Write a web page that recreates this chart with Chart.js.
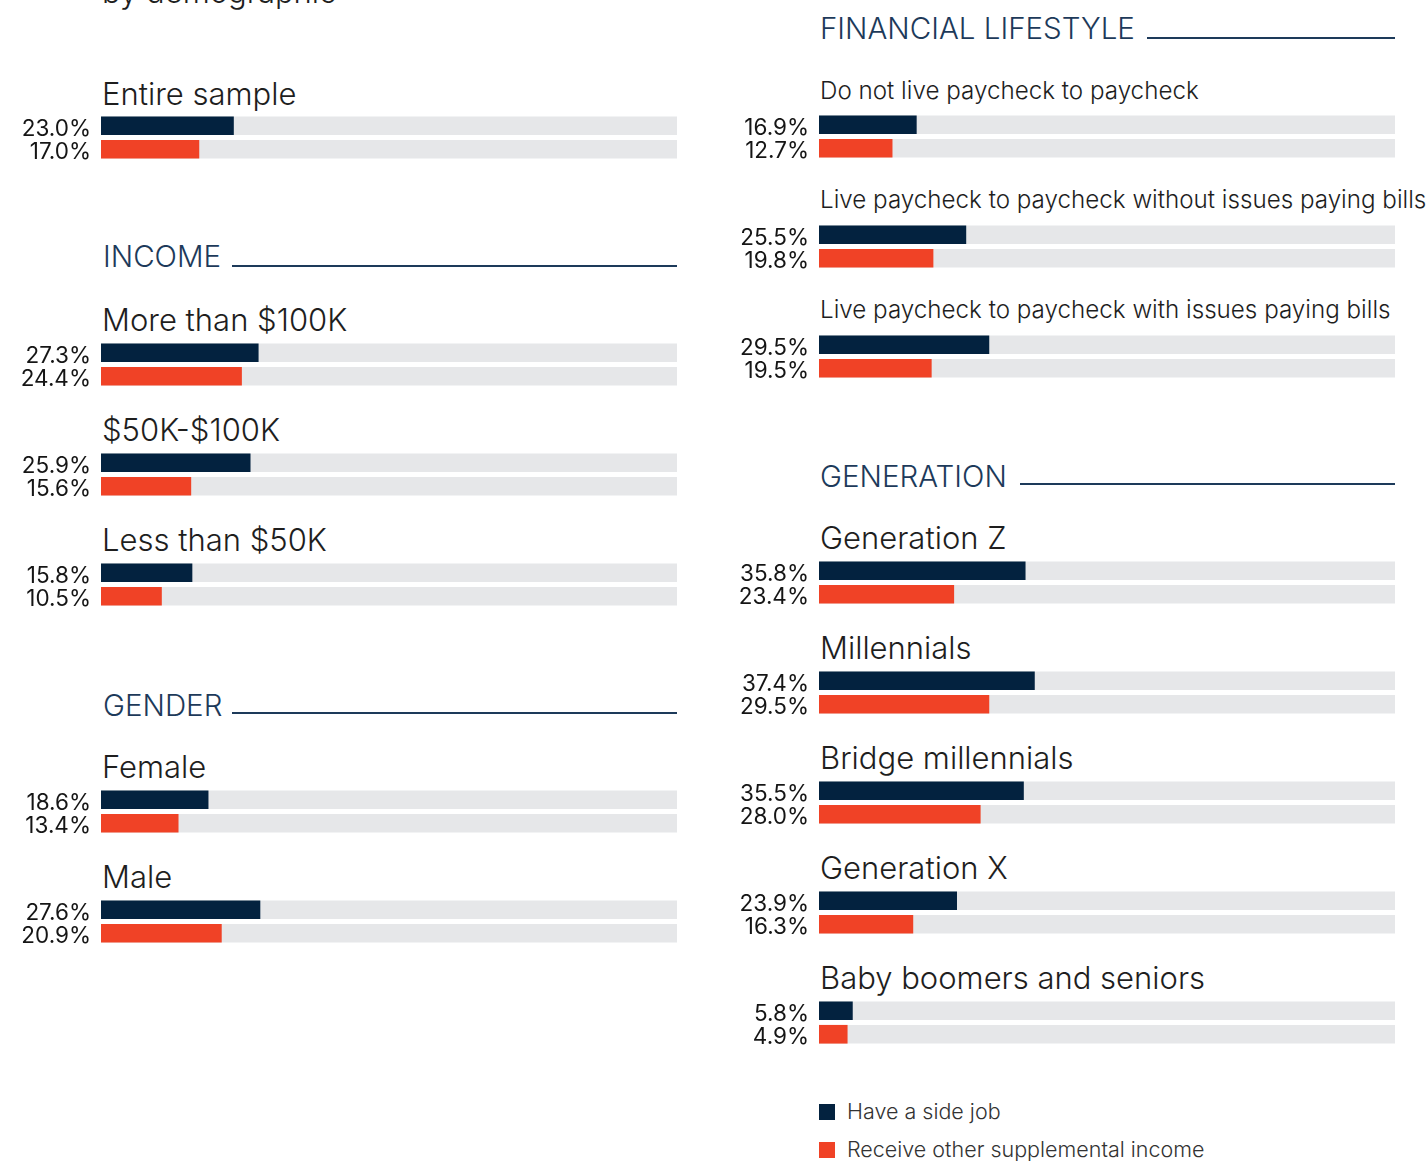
<!DOCTYPE html>
<html>
<head>
<meta charset="utf-8">
<script src="https://cdn.jsdelivr.net/npm/chart.js@4.4.1/dist/chart.umd.min.js"></script>
<style>
  html, body { margin: 0; padding: 0; background: #ffffff; }
  body { width: 1427px; height: 1161px; position: relative; overflow: hidden; font-family: Inter, "Open Sans", sans-serif; }
  .abs { position: absolute; white-space: nowrap; }
  .title { font-weight: 300; color: #1e1e1e; line-height: 1; }
  .header { font-weight: 300; color: #1d3a5a; line-height: 1; }
  .hline { position: absolute; height: 1.5px; background: #1d3a5a; }
  canvas { position: absolute; }
  .legsq { position: absolute; width: 16px; height: 16px; }
  .legtx { position: absolute; font-size: 21.5px; font-weight: 300; color: #333; line-height: 1; white-space: nowrap; }
</style>
</head>
<body>
<script>
// ---------------- DATA ----------------
const categories = [
  "Entire sample",
  "More than $100K", "$50K-$100K", "Less than $50K",
  "Female", "Male",
  "Do not live paycheck to paycheck",
  "Live paycheck to paycheck without issues paying bills",
  "Live paycheck to paycheck with issues paying bills",
  "Generation Z", "Millennials", "Bridge millennials", "Generation X", "Baby boomers and seniors"
];
const sideJob      = [23.0, 27.3, 25.9, 15.8, 18.6, 27.6, 16.9, 25.5, 29.5, 35.8, 37.4, 35.5, 23.9, 5.8];
const supplemental = [17.0, 24.4, 15.6, 10.5, 13.4, 20.9, 12.7, 19.8, 19.5, 23.4, 29.5, 28.0, 16.3, 4.9];
const seriesNames  = ["Have a side job", "Receive other supplemental income"];
const sectionNames = ["INCOME", "GENDER", "FINANCIAL LIFESTYLE", "GENERATION"];
const pageTitle    = "by demographic";
const axisMax      = 100;

// ---------------- STYLE / LAYOUT ----------------
const NAVY = "#03223f", RED = "#f04226", TRACK = "#e6e7e9";
const FONT = "Inter, 'Open Sans', sans-serif";
const panelCol   = [0, 0, 0, 0, 0, 0, 1, 1, 1, 1, 1, 1, 1, 1];
const panelTop   = [114, 341, 451, 561, 788, 898, 113, 223, 333, 559, 669, 779, 889, 999];
const titleBase  = [105, 331, 441, 551, 778, 888, 100, 209, 319, 549, 659, 769, 879, 989];
const titleSize  = [31, 31, 31, 31, 31, 31, 24.2, 24.2, 24.2, 31, 31, 31, 31, 31];
const colCanvasLeft = [0, 718];
const colTitleLeft  = [102, 820];
const headerX    = [103, 103, 820, 820];
const headerBase = [267, 716, 39, 487];
const lineX1     = [232, 232, 1147, 1020];
const lineX2     = [677, 677, 1395, 1395];
const lineY      = [265, 712, 37, 483];
const CANVAS_W = 677, CANVAS_H = 47, AXIS_W = 101;

function addText(cls, text, x, baseline, size, extra) {
  const d = document.createElement('div');
  d.className = 'abs ' + cls;
  d.textContent = text;
  d.style.fontSize = size + 'px';
  d.style.left = x + 'px';
  d.style.top = (baseline - 0.864 * size) + 'px';
  if (extra) Object.assign(d.style, extra);
  document.body.appendChild(d);
  return d;
}

addText('title', pageTitle, 102, 3, 31);

sectionNames.forEach((s, i) => {
  addText('header', s, headerX[i], headerBase[i], 29.5);
  const l = document.createElement('div');
  l.className = 'hline';
  l.style.left = lineX1[i] + 'px';
  l.style.width = (lineX2[i] - lineX1[i]) + 'px';
  l.style.top = lineY[i] + 'px';
  document.body.appendChild(l);
});

categories.forEach((cat, i) => {
  const col = panelCol[i];
  addText('title', cat, colTitleLeft[col], titleBase[i], titleSize[i]);

  const cv = document.createElement('canvas');
  cv.width = CANVAS_W; cv.height = CANVAS_H;
  cv.style.left = colCanvasLeft[col] + 'px';
  cv.style.top = panelTop[i] + 'px';
  cv.style.width = CANVAS_W + 'px'; cv.style.height = CANVAS_H + 'px';
  document.body.appendChild(cv);

  const vals = [sideJob[i], supplemental[i]];
  const labels = vals.map(v => v.toFixed(1) + '%');

  new Chart(cv.getContext('2d'), {
    type: 'bar',
    data: {
      labels: labels,
      datasets: [
        { label: 'value', data: vals, backgroundColor: [NAVY, RED], order: 1,
          grouped: false, barThickness: 18, borderWidth: 0 },
        { label: 'track', data: vals.map(() => axisMax), backgroundColor: TRACK, order: 2,
          grouped: false, barThickness: 18, borderWidth: 0 }
      ]
    },
    options: {
      indexAxis: 'y',
      responsive: false,
      animation: false,
      devicePixelRatio: 1,
      layout: { padding: 0 },
      plugins: { legend: { display: false }, tooltip: { enabled: false }, title: { display: false } },
      scales: {
        x: { display: false, min: 0, max: axisMax },
        y: {
          grid: { display: false, drawTicks: false },
          border: { display: false },
          ticks: { autoSkip: false, color: '#151515', font: { family: FONT, size: 22.5, weight: 400 },
                   padding: 10, labelOffset: 3 },
          afterFit: (scale) => { scale.width = AXIS_W; scale.paddingTop = 0; scale.paddingBottom = 0; }
        }
      }
    }
  });
});

const legColors = [NAVY, RED];
const legY = [1104, 1142];
seriesNames.forEach((n, i) => {
  const sq = document.createElement('div');
  sq.className = 'legsq';
  sq.style.left = '819px'; sq.style.top = legY[i] + 'px';
  sq.style.background = legColors[i];
  document.body.appendChild(sq);
  const t = document.createElement('div');
  t.className = 'legtx';
  t.textContent = n;
  t.style.left = '847px';
  t.style.top = (legY[i] + 16 - 0.864 * 21.5) + 'px';
  document.body.appendChild(t);
});
</script>
</body>
</html>
